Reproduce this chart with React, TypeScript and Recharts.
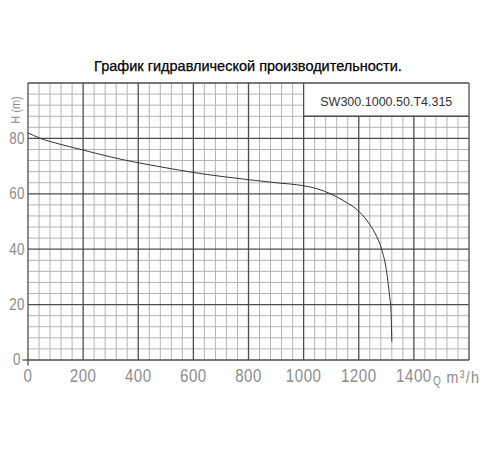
import React from 'react';
import { ComposedChart, Line, XAxis, YAxis, ReferenceLine, ReferenceArea } from 'recharts';

const flowQ = [0, 40, 120, 200, 300, 400, 500, 600, 700, 800, 900, 1000, 1050, 1100, 1150, 1200, 1240, 1265, 1283, 1300, 1312, 1317, 1320];
const headH = [82, 80.2, 77.8, 75.8, 73.3, 71.2, 69.4, 67.7, 66.3, 65.1, 64.0, 62.9, 61.8, 59.9, 57.2, 53.7, 48.9, 44.6, 40, 32.6, 23, 18, 6.6];
const xTicks = [0, 200, 400, 600, 800, 1000, 1200, 1400];
const yTicks = [0, 20, 40, 60, 80];
const modelName = 'SW300.1000.50.T4.315';
const titleText = 'График гидравлической производительности.';

const data = flowQ.map((q, i) => ({ q, h: headH[i] }));

const X_MAX = 1600;
const Y_MAX = 100;
const BOX_X = 1000;
const BOX_Y = 88;

const minorX: number[] = [];
for (let v = 0; v <= X_MAX; v += 40) if (v % 200 !== 0) minorX.push(v);
const minorY: number[] = [];
for (let v = 0; v <= Y_MAX; v += 4) if (v % 20 !== 0) minorY.push(v);
const majorX: number[] = [];
for (let v = 0; v <= X_MAX; v += 200) majorX.push(v);
const majorY: number[] = [];
for (let v = 0; v <= Y_MAX; v += 20) majorY.push(v);

const MINOR = '#b3b3b3';
const MAJOR = '#4d4d4d';
const LABEL = '#8c8c8c';
const CAD_FONT = "'Liberation Sans', Arial, sans-serif";

const XTick = (props: any) => {
  const { x, payload } = props;
  const v = payload.value;
  return (
    <text transform={`translate(${x},368) scale(0.84,1)`} textAnchor="middle" dominantBaseline="central" fill={LABEL} fontSize={18} fontFamily={CAD_FONT} letterSpacing={0.6}>
      {v}
    </text>
  );
};

const YTick = (props: any) => {
  const { y, payload } = props;
  const v = payload.value;
  const xr = v === 0 ? 13 : 17;
  return (
    <text transform={`translate(${xr},${y}) scale(0.84,1)`} textAnchor="end" dominantBaseline="central" fill={LABEL} fontSize={16} fontFamily={CAD_FONT} letterSpacing={0.5}>
      {v}
    </text>
  );
};

export default function App() {
  return (
    <ComposedChart width={500} height={442} data={data} margin={{ top: 75, right: 39, left: 0, bottom: 60 }}>
      <XAxis dataKey="q" type="number" domain={[0, X_MAX]} ticks={xTicks} axisLine={false} tickLine={false} tick={<XTick />} height={30} interval={0} />
      <YAxis type="number" domain={[0, Y_MAX]} ticks={yTicks} axisLine={false} tickLine={false} tick={<YTick />} width={20} interval={0} />

      {minorX.map((v) => (
        <ReferenceLine key={'mx' + v} segment={[{ x: v, y: 0 }, { x: v, y: v > BOX_X ? BOX_Y : Y_MAX }]} stroke={MINOR} strokeWidth={1} />
      ))}
      {minorY.map((v) => (
        <ReferenceLine key={'my' + v} segment={[{ x: 0, y: v }, { x: v > BOX_Y ? BOX_X : X_MAX, y: v }]} stroke={MINOR} strokeWidth={1} />
      ))}
      {majorX.map((v) => (
        <ReferenceLine key={'Mx' + v} segment={[{ x: v, y: 0 }, { x: v, y: v > BOX_X && v < X_MAX ? BOX_Y : Y_MAX }]} stroke={MAJOR} strokeWidth={1.3} />
      ))}
      {majorY.map((v) => (
        <ReferenceLine key={'My' + v} segment={[{ x: 0, y: v }, { x: X_MAX, y: v }]} stroke={MAJOR} strokeWidth={1.3} />
      ))}
      <ReferenceLine segment={[{ x: BOX_X, y: BOX_Y }, { x: X_MAX, y: BOX_Y }]} stroke={MAJOR} strokeWidth={1.3} />
      <ReferenceLine segment={[{ x: -20, y: 0 }, { x: 0, y: 0 }]} stroke={MAJOR} strokeWidth={1.3} ifOverflow="visible" />
      <ReferenceLine segment={[{ x: 0, y: 0 }, { x: 0, y: -2 }]} stroke={MAJOR} strokeWidth={1.3} ifOverflow="visible" />

      <ReferenceArea
        x1={BOX_X}
        x2={X_MAX}
        y1={BOX_Y}
        y2={Y_MAX}
        fill="#ffffff"
        fillOpacity={0}
        stroke="none"
        label={{ value: modelName, position: 'center', fill: '#333', fontSize: 12.5, fontFamily: "'Liberation Sans', Arial, sans-serif", dy: 2 }}
      />

      <Line dataKey="h" type="monotone" stroke="#333" strokeWidth={1} dot={false} isAnimationActive={false} />

      <text x={240} y={58} textAnchor="middle" dominantBaseline="central" fontSize={14.5} fill="#000" fontFamily="'Liberation Sans', Arial, sans-serif" stroke="#000" strokeWidth={0.25}>
        {titleText}
      </text>
      <text transform="translate(8,102) rotate(-90) scale(0.84,1)" textAnchor="middle" dominantBaseline="central" fontSize={13} fill={LABEL} fontFamily={CAD_FONT}>
        H (m)
      </text>
      <text transform="translate(425,377) scale(0.84,1)" fill={LABEL} fontFamily={CAD_FONT} fontSize={12}>
        Q
      </text>
      <text transform="translate(438.5,375) scale(0.84,1)" fill={LABEL} fontFamily={CAD_FONT} fontSize={17} letterSpacing={1.5}>
        m³/h
      </text>
    </ComposedChart>
  );
}
